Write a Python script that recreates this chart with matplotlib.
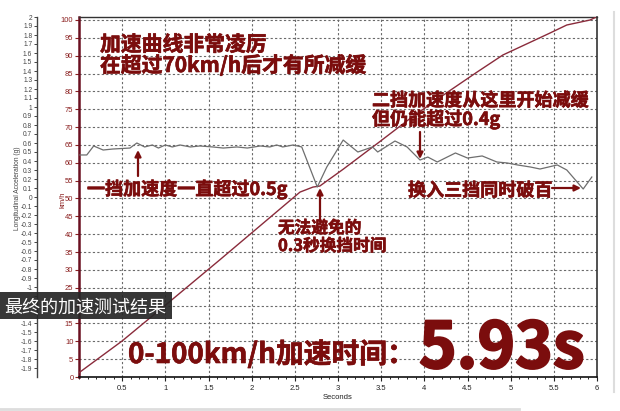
import matplotlib
matplotlib.use("Agg")
import matplotlib.pyplot as plt
import matplotlib.patheffects as pe
import numpy as np
from matplotlib.patches import Rectangle
from matplotlib.lines import Line2D

plt.rcParams['font.family'] = ['Liberation Sans', 'Noto Sans CJK SC', 'DejaVu Sans']

# speed trace (km/h) against time (s)
speed_t = [0, 0.5, 1.0, 1.63, 2.56, 2.71, 2.79, 3.06, 3.45, 3.84, 4.30,
           4.61, 4.91, 5.23, 5.46, 5.65, 5.92, 5.98]
speed_kmh = [1.2, 10.1, 20.1, 32.8, 51.8, 53.2, 53.5, 58.2, 65.3, 72.5, 80.3,
             85.4, 90.2, 93.8, 96.4, 98.6, 100.0, 100.7]

# longitudinal acceleration (g) against time (s)
accel_t = [0.01, 0.09, 0.17, 0.28, 0.39, 0.59, 0.67, 0.76, 0.85, 0.92, 1.00,
           1.08, 1.17, 1.29, 1.40, 1.55, 1.67, 1.83, 1.95, 2.10, 2.21, 2.29,
           2.36, 2.48, 2.58, 2.76, 2.87, 3.06, 3.23, 3.40, 3.46, 3.66, 3.80,
           3.95, 4.04, 4.15, 4.36, 4.50, 4.67, 4.84, 4.96, 5.08, 5.23, 5.34,
           5.54, 5.65, 5.84, 5.94]
accel_g = [0.467, 0.467, 0.567, 0.522, 0.533, 0.544, 0.600, 0.556, 0.578,
           0.544, 0.578, 0.556, 0.578, 0.556, 0.567, 0.556, 0.544, 0.556,
           0.544, 0.567, 0.556, 0.578, 0.556, 0.578, 0.556, 0.111, 0.333,
           0.633, 0.500, 0.556, 0.500, 0.622, 0.556, 0.411, 0.444, 0.389,
           0.489, 0.433, 0.456, 0.389, 0.378, 0.356, 0.333, 0.311, 0.356,
           0.300, 0.089, 0.222]

speed_ticks = list(range(0, 101, 5))
accel_ticks = [round(v, 1) for v in np.arange(-1.9, 2.01, 0.1)]
time_ticks = [0.5, 1, 1.5, 2, 2.5, 3, 3.5, 4, 4.5, 5, 5.5, 6]
# labels that sit under the caption box in the screenshot
hidden_accel = [-1.1, -1.2, -1.3]
hidden_speed = [20]

DARK_RED = '#7b0d0d'
CJK = ['Noto Sans CJK SC', 'DejaVu Sans']
W, H = 620, 411


def px(x, y):
    # top-left pixel -> figure fraction
    return x / W, 1 - y / H


fig = plt.figure(figsize=(6.2, 4.11), dpi=100)
ax = fig.add_axes([79 / W, 1 - 377 / H, (597 - 79) / W, (377 - 17) / H])

ax.set_xlim(0, 6)
ax.set_ylim(0, 100.84)

# dotted grid
for v in speed_ticks[1:]:
    ax.plot([0, 6], [v, v], color='#6a6a6a', lw=0.8, ls=(0, (2, 2)), zorder=1)
for t in time_ticks[:-1]:
    ax.plot([t, t], [0, 100.84], color='#6a6a6a', lw=0.8, ls=(0, (2, 2)), zorder=1)

ax.plot(speed_t, speed_kmh, color='#8a2b3b', lw=1.0, zorder=3)
ax.set_yticks(speed_ticks)
ax.set_yticklabels(['' if v in hidden_speed else str(v) for v in speed_ticks])
ax.set_xticks(time_ticks)
ax.set_xticklabels([f"{v:g}" for v in time_ticks])
ax.set_xticks(np.arange(0, 6.01, 0.1), minor=True)
ax.tick_params(axis='y', colors='#8b2020', labelsize=5.5, length=3, width=0.8, pad=1)
ax.tick_params(axis='x', labelsize=5.5, length=3, width=0.8, pad=3, colors='#222222')
ax.tick_params(axis='x', which='minor', length=1.5, width=0.6)
ax.spines['left'].set_color('#6a1020')
ax.spines['left'].set_linewidth(1.8)
ax.spines['bottom'].set_color('#111111')
ax.spines['bottom'].set_linewidth(1.2)
ax.spines['top'].set_color('#333333')
ax.spines['top'].set_linewidth(1.0)
ax.spines['right'].set_color('#333333')
ax.spines['right'].set_linewidth(1.2)
ax.set_xlabel('Seconds', fontsize=5.5, labelpad=1, color='#222222')

ax2 = ax.twinx()
ax2.plot(accel_t, accel_g, color='#6e6e6e', lw=0.9, zorder=2)
ax2.set_ylim(-2, 2)
ax2.yaxis.set_ticks_position('left')
ax2.yaxis.set_label_position('left')
ax2.spines['left'].set_position(('outward', 30.2))
ax2.spines['left'].set_visible(True)
ax2.spines['left'].set_color('#444444')
ax2.spines['left'].set_linewidth(1.0)
ax2.spines['right'].set_visible(False)
ax2.spines['top'].set_visible(False)
ax2.spines['bottom'].set_visible(False)
ax2.set_yticks(accel_ticks)
ax2.set_yticklabels(['' if v in hidden_accel else f"{v:g}" for v in accel_ticks])
ax2.tick_params(axis='y', colors='#444444', labelsize=4.8, length=2.5, width=0.7, pad=1)

fig.text(*px(18, 188), 'Longitudinal Acceleration (g)', rotation=90,
         fontsize=4.8, color='#444444', ha='center', va='center')
fig.text(*px(63, 200), 'km/h', rotation=90, fontsize=5.5, color='#8b2020',
         ha='center', va='center')

# annotations
notes = [
    (100, 51, '加速曲线非常凌厉', 15),
    (100, 72, '在超过70km/h后才有所减缓', 15),
    (372, 106, '二挡加速度从这里开始减缓', 13),
    (372, 125, '但仍能超过0.4g', 13),
    (87, 195, '一挡加速度一直超过0.5g', 13),
    (278, 233, '无法避免的', 12),
    (278, 251, '0.3秒换挡时间', 12),
    (408, 196, '换入三挡同时破百', 13),
    (128, 363, '0-100km/h加速时间：', 20),
]
heavy = [pe.withStroke(linewidth=0.45, foreground=DARK_RED)]
for x, y, s, size in notes:
    fig.text(*px(x, y), s, fontsize=size, fontweight='bold', color=DARK_RED,
             family=CJK, ha='left', va='baseline', zorder=10, path_effects=heavy)

fig.text(*px(419, 368), '5.93s', fontsize=46, fontweight='bold', color=DARK_RED,
         family=CJK, ha='left', va='baseline', zorder=10,
         path_effects=[pe.withStroke(linewidth=1.5, foreground=DARK_RED)])

arrows = [
    ((138, 176), (138, 150)),
    ((320, 221), (320, 188)),
    ((420, 132), (420, 159)),
    ((552, 188), (581, 188)),
]
for tail, head in arrows:
    ax.annotate('', xy=px(*head), xycoords='figure fraction',
                xytext=px(*tail), textcoords='figure fraction',
                arrowprops=dict(arrowstyle='-|>', color=DARK_RED, lw=1.6,
                                mutation_scale=9, shrinkA=0, shrinkB=0),
                zorder=10)

# caption box
x0, y0 = px(0, 319)
fig.patches.append(Rectangle((x0, y0), 172 / W, 27 / H, transform=fig.transFigure,
                             facecolor='#262626', alpha=0.92, zorder=9, edgecolor='none'))
fig.text(*px(4, 313), '最终的加速测试结果', fontsize=13, color='white', family=CJK,
         ha='left', va='baseline', zorder=11)

# faint frame edges of the screenshot
fig.lines.append(Line2D([614 / W, 614 / W], [1 - 392 / H, 1 - 12 / H],
                        transform=fig.transFigure, color='#dddddd', lw=1.5))
fig.lines.append(Line2D([0, 519 / W], [1 - 409 / H, 1 - 409 / H],
                        transform=fig.transFigure, color='#dddddd', lw=2))

fig.savefig('out.png', dpi=100)
